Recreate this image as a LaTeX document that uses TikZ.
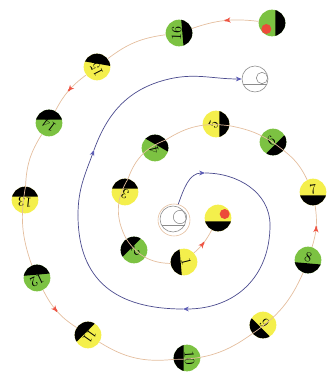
\documentclass[tikz,border=0pt]{standalone}
\usepackage{tikz}
\usetikzlibrary{arrows.meta, decorations.markings}
\definecolor{BallGreen}{HTML}{7CC242}
\definecolor{BallYellow}{HTML}{F4EF4C}
\definecolor{DotRed}{HTML}{EC4B3A}
\definecolor{PathTan}{HTML}{E4BE9E}
\definecolor{PathBlue}{HTML}{4B4B8E}
\definecolor{TipBlue}{HTML}{5A5AB4}
\definecolor{TipRed}{HTML}{EE5544}
\definecolor{RingGray}{HTML}{8C8C8C}

\tikzset{
  ball/.style={circle, minimum size=0.8cm, inner sep=0pt},
  greenball/.style={ball, fill=BallGreen},
  yellowball/.style={ball, fill=BallYellow},
  % black cap towards angle #1, number #3 turned by #2
  face/.style n args={3}{path picture={
      \fill[black, shift={(path picture bounding box.center)}]
        ({#1-80.5}:0.608cm) -- ({#1-45}:0.849cm) -- ({#1+45}:0.849cm) -- ({#1+80.5}:0.608cm) -- cycle;
      \node[inner sep=0pt, font=\large] at ([shift={({#1+180}:0.07cm)}]path picture bounding box.center)
        {\rotatebox[origin=c]{#2}{#3}};}},
  tanpath/.style={draw=PathTan, line width=0.6pt},
  redtip/.style={postaction={decorate}, decoration={markings, mark=at position 0.5 with
      {\draw[TipRed, line width=1.5pt] (-4pt,0) -- (0pt,0); \arrow{Stealth[length=5pt,width=4.5pt,color=TipRed]}}}},
  bluepath/.style={draw=PathBlue, line width=0.6pt},
  bluetip/.style={-{Stealth[length=5pt,width=4pt,color=TipBlue]}},
  ring/.style={circle, draw=RingGray, line width=0.5pt, inner sep=0pt},
}

\begin{document}
\begin{tikzpicture}[x=0.03cm, y=-0.03cm]
\useasboundingbox (0,0) rectangle (329,374);

% outer spiral of balls
\node[greenball, face={0}{0}{}] (start) at (272,23) {};
\node[greenball, face={5}{88}{16}] (n16) at (179,33) {};
\node[yellowball, face={80}{117}{15}] (n15) at (97,67) {};
\node[greenball, face={90}{143}{14}] (n14) at (49,123) {};
\node[yellowball, face={90}{174}{13}] (n13) at (25,200) {};
\node[greenball, face={95}{205}{12}] (n12) at (37,278) {};
\node[yellowball, face={135}{235}{11}] (n11) at (88,335) {};
\node[greenball, face={180}{274}{10}] (n10) at (187,358) {};
\node[yellowball, face={225}{310}{9}] (n9) at (263,325) {};
\node[greenball, face={265}{342}{8}] (n8) at (308,260) {};
\node[yellowball, face={270}{9}{7}] (n7) at (313,192) {};
\node[greenball, face={315}{36}{6}] (n6) at (273,142) {};
\node[yellowball, face={0}{64}{5}] (n5) at (216,124) {};
\node[greenball, face={60}{104}{4}] (n4) at (155,148) {};
\node[yellowball, face={90}{154}{3}] (n3) at (125,192) {};
\node[greenball, face={135}{223}{2}] (n2) at (134,250) {};
\node[yellowball, face={185}{284}{1}] (n1) at (184,262) {};
\node[yellowball, face={270}{0}{}] (finish) at (218,218) {};
\fill[DotRed] ([shift={(-0.17cm,-0.18cm)}]start.center) circle (0.15cm);
\fill[DotRed] ([shift={(0.2cm,0.12cm)}]finish.center) circle (0.15cm);

% centre and exit symbols
\node[ring, draw=PathTan, minimum size=0.96cm] (core) at (174,220) {};
\draw[RingGray, line width=0.5pt] (173,219) circle (0.39cm);
\draw[RingGray, line width=0.5pt] (180,217) circle (0.2cm);
\draw[RingGray, line width=0.5pt] (161.5,225) -- (184.5,225);
\node[ring, minimum size=0.78cm] (exit) at (255,79) {};
\draw[RingGray, line width=0.5pt] (262,78) circle (0.17cm);
\draw[RingGray, line width=0.5pt] (243,84) -- (267,84);

% tan path through the balls
\draw[tanpath, redtip] (start) to[bend right=13] (n16);
\draw[tanpath] (n16) to[bend right=15] (n15);
\draw[tanpath, redtip] (n15) to[bend right=13] (n14);
\draw[tanpath] (n14) to[bend right=15] (n13) to[bend right=15] (n12);
\draw[tanpath, redtip] (n12) to[bend right=15] (n11);
\draw[tanpath] (n11) to[bend right=19] (n10) to[bend right=18] (n9) to[bend right=16] (n8);
\draw[tanpath, redtip] (n8) to[bend right=13] (n7);
\draw[tanpath] (n7) to[bend right=13] (n6) to[bend right=14] (n5) to[bend right=20] (n4)
  to[bend right=25] (n3) to[bend right=30] (n2) to[bend right=28] (n1);
\draw[tanpath, redtip] (n1) to[bend right=10] (finish);

% blue spiral out of the centre
\coordinate (b1) at (205,173);
\coordinate (b2) at (270,225);
\coordinate (b3) at (183,309);
\coordinate (b4) at (78,215);
\coordinate (b5) at (94,150);
\coordinate (b6) at (165,80);
\draw[bluepath, bluetip] (core.75) to[out=70,in=180] (b1);
\draw[bluepath] (b1) to[out=0,in=90] (b2);
\draw[bluepath, bluetip] (b2) to[out=270,in=0,looseness=1.1] (b3);
\draw[bluepath] (b3) to[out=180,in=270,looseness=1.2] (b4);
\draw[bluepath, bluetip] (b4) to[out=90,in=250] (b5);
\draw[bluepath] (b5) to[out=70,in=195] (b6);
\draw[bluepath, bluetip] (b6) to[out=15,in=180] (exit);
\end{tikzpicture}
\end{document}
